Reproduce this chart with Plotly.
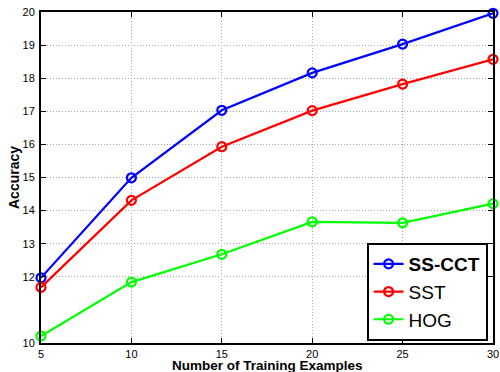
import plotly.graph_objects as go

x_vals = [5, 10, 15, 20, 25, 30]
ss_cct = [11.97, 14.99, 17.03, 18.16, 19.03, 19.96]
sst = [11.68, 14.31, 15.93, 17.02, 17.82, 18.57]
hog = [10.21, 11.84, 12.68, 13.66, 13.63, 14.21]
y_ticks = [10, 12, 13, 14, 15, 16, 17, 18, 19, 20]
x_ticks = [5, 10, 15, 20, 25, 30]

FONT = "Liberation Sans, Arial, Helvetica, sans-serif"

fig = go.Figure()
for name, ys, col in [("<b>SS-CCT</b>", ss_cct, "#0000ff"),
                      ("SST", sst, "#ff0000"),
                      ("HOG", hog, "#00ff00")]:
    fig.add_trace(go.Scatter(
        x=x_vals, y=ys, name=name, mode="lines+markers",
        line=dict(color=col, width=2.2),
        marker=dict(symbol="circle-open", size=9, color=col, line=dict(width=2.2, color=col)),
        cliponaxis=False,
    ))

axis_common = dict(
    showline=True, linecolor="black", linewidth=2, mirror="ticks",
    ticks="inside", ticklen=5, tickcolor="black", tickwidth=1,
    showgrid=True, gridcolor="#a8a8a8", griddash="1px,2px", gridwidth=1,
    zeroline=False, ticklabeloverflow="allow", automargin=False,
    tickfont=dict(family=FONT, size=11, color="black"),
)

fig.update_layout(
    width=500, height=372,
    margin=dict(l=41, r=7, t=12, b=29, autoexpand=False),
    paper_bgcolor="white", plot_bgcolor="white",
    font=dict(family=FONT, color="black"),
    xaxis=dict(range=[5, 30], tickvals=x_ticks, ticklabelstandoff=0, **axis_common),
    yaxis=dict(range=[10, 20], tickvals=y_ticks, ticklabelstandoff=2,
               title=dict(text="<b>Accuracy</b>", font=dict(size=14, family=FONT), standoff=0),
               **axis_common),
    legend=dict(x=0.988, y=0.006, xanchor="right", yanchor="bottom",
                bordercolor="black", borderwidth=2, bgcolor="white",
                font=dict(size=19, family=FONT, color="black"),
                tracegroupgap=0, itemwidth=30),
    showlegend=True,
    annotations=[dict(text="<b>Number of Training Examples</b>", xref="paper", yref="paper",
                      x=0.5, y=0, xanchor="center", yanchor="middle", yshift=-22, borderpad=0,
                      showarrow=False, font=dict(size=13.5, family=FONT, color="black"))],
)

fig.write_html("out.html", config={"displayModeBar": False},
               post_script="document.body.style.margin='0';document.body.style.overflow='hidden';")
